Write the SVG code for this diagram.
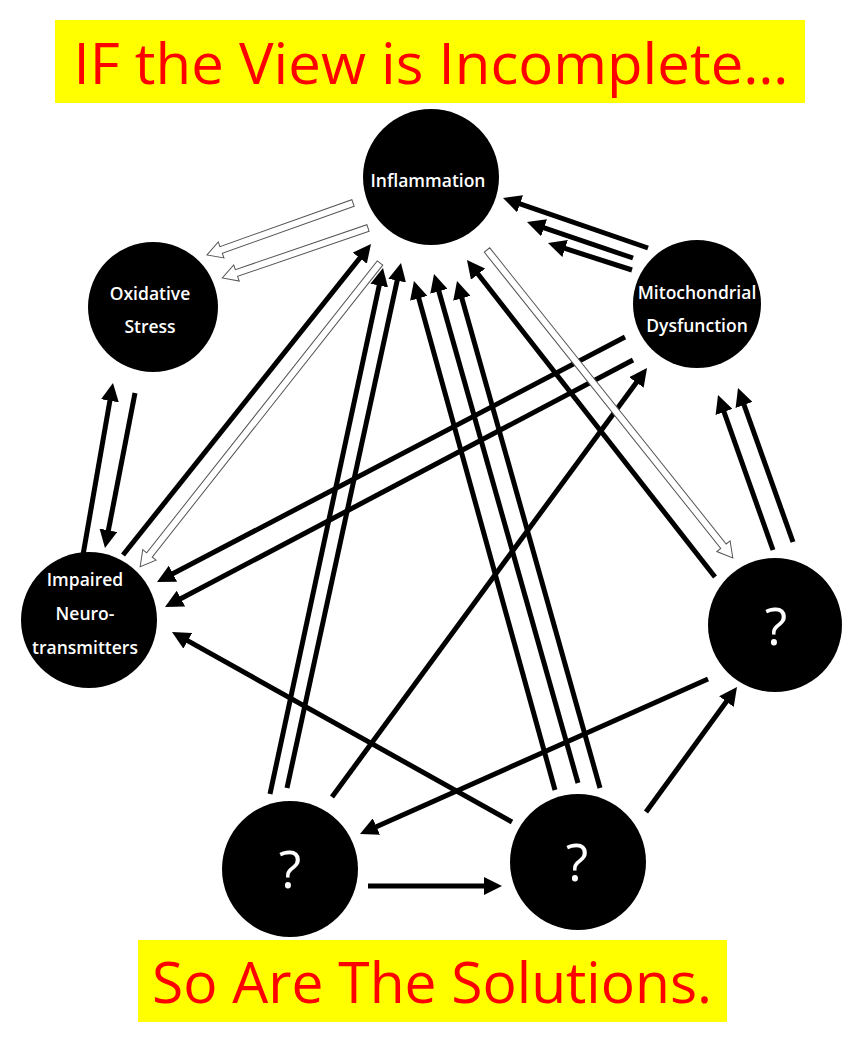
<svg xmlns="http://www.w3.org/2000/svg" width="864" height="1062" viewBox="0 0 864 1062">
<style>
.bg{fill:#ffffff}
.banner{fill:#ffff00}
.title{fill:#ff0000;font-family:"Open Sans","Liberation Sans",sans-serif;text-anchor:middle}
.node{fill:#000000}
.lbl{fill:#ffffff;font-family:"Open Sans","Liberation Sans",sans-serif;font-size:17.5px;font-weight:600;text-anchor:middle}
.q{fill:#ffffff;font-family:"Open Sans","Liberation Sans",sans-serif;font-size:52px;text-anchor:middle}
.arr{stroke:#000000;stroke-width:5;fill:none;marker-end:url(#ah)}
.hollow{fill:#ffffff;stroke:#555555;stroke-width:1}
</style>
<defs>
<marker id="ah" markerUnits="userSpaceOnUse" markerWidth="18" markerHeight="18" refX="10" refY="9" orient="auto" viewBox="0 0 18 18">
<path d="M0,0 L18,9 L0,18 z" fill="#000000"/>
</marker>
</defs>
<rect class="bg" x="0" y="0" width="864" height="1062"/>
<g id="title">
<rect class="banner" x="55" y="20" width="750" height="83"/>
<text class="title" x="431" y="84" font-size="57" textLength="715" lengthAdjust="spacingAndGlyphs">IF the View is Incomplete…</text>
</g>
<g id="footer">
<rect class="banner" x="138" y="940" width="589" height="82"/>
<text class="title" x="432" y="1003" font-size="57" textLength="560" lengthAdjust="spacingAndGlyphs">So Are The Solutions.</text>
</g>
<g id="connectors">
<line class="arr" x1="648" y1="248" x2="510.6" y2="200.6"/>
<line class="arr" x1="633" y1="258" x2="534.6" y2="224.6"/>
<line class="arr" x1="632" y1="270" x2="555.6" y2="245.4"/>
<line class="arr" x1="715" y1="577" x2="471.9" y2="266.3"/>
<line class="arr" x1="555" y1="790" x2="416.1" y2="288.7"/>
<line class="arr" x1="578" y1="783" x2="436.2" y2="281.7"/>
<line class="arr" x1="600" y1="788" x2="459.2" y2="288.7"/>
<line class="arr" x1="270" y1="794" x2="381.3" y2="275.8"/>
<line class="arr" x1="287" y1="788" x2="399.3" y2="270.8"/>
<line class="arr" x1="123" y1="555" x2="366.0" y2="250.3"/>
<line class="arr" x1="332" y1="797" x2="642.3" y2="374.4"/>
<line class="arr" x1="512" y1="822" x2="179" y2="635.9"/>
<line class="arr" x1="708" y1="679" x2="367.3" y2="830.7"/>
<line class="arr" x1="646" y1="812" x2="732.3" y2="693.5"/>
<line class="arr" x1="368" y1="886" x2="494" y2="886"/>
<line class="arr" x1="773" y1="550" x2="720.7" y2="402.5"/>
<line class="arr" x1="793" y1="542" x2="740.7" y2="395.5"/>
<line class="arr" x1="83" y1="555" x2="111.6" y2="390.9"/>
<line class="arr" x1="135" y1="393" x2="106.5" y2="540.1"/>
<line class="arr" x1="625" y1="337" x2="164.1" y2="578.3"/>
<line class="arr" x1="633" y1="360" x2="172.1" y2="603.3"/>
<polygon class="hollow" transform="translate(353,203) rotate(160.4)" points="0,-3.5 140,-3.5 140,-8.5 155,0 140,8.5 140,3.5 0,3.5"/>
<polygon class="hollow" transform="translate(368,228) rotate(161.1)" points="0,-3.5 139,-3.5 139,-8.5 154,0 139,8.5 139,3.5 0,3.5"/>
<polygon class="hollow" transform="translate(380,263) rotate(128.3)" points="0,-3.5 372,-3.5 372,-8.5 387,0 372,8.5 372,3.5 0,3.5"/>
<polygon class="hollow" transform="translate(487,250) rotate(51.4)" points="0,-3.5 379,-3.5 379,-8.5 394,0 379,8.5 379,3.5 0,3.5"/>
</g>
<g id="inflammation">
<circle class="node" cx="431" cy="177" r="68"/>
<text class="lbl" x="428" y="187">Inflammation</text>
</g>
<g id="oxidative-stress">
<circle class="node" cx="153" cy="307" r="65"/>
<text class="lbl" x="150" y="300">Oxidative</text>
<text class="lbl" x="150" y="333">Stress</text>
</g>
<g id="mitochondrial-dysfunction">
<circle class="node" cx="697" cy="304" r="64"/>
<text class="lbl" x="697" y="299">Mitochondrial</text>
<text class="lbl" x="697" y="332">Dysfunction</text>
</g>
<g id="impaired-neurotransmitters">
<circle class="node" cx="89" cy="620" r="68"/>
<text class="lbl" x="85" y="586">Impaired</text>
<text class="lbl" x="85" y="620">Neuro-</text>
<text class="lbl" x="85" y="654">transmitters</text>
</g>
<g id="unknown-right">
<circle class="node" cx="775" cy="625" r="67"/>
<text class="q" x="776" y="645">?</text>
</g>
<g id="unknown-bottom-left">
<circle class="node" cx="290" cy="869" r="68"/>
<text class="q" x="290" y="888">?</text>
</g>
<g id="unknown-bottom-right">
<circle class="node" cx="578" cy="862" r="68"/>
<text class="q" x="577" y="881">?</text>
</g>
</svg>
